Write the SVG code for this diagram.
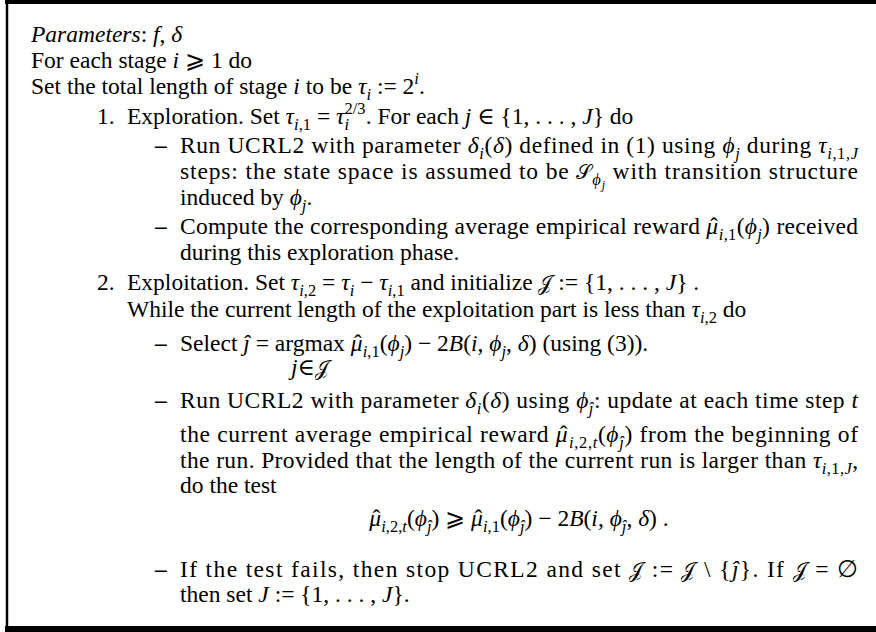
<svg xmlns="http://www.w3.org/2000/svg" width="876" height="632" viewBox="0 0 876 632">
<style>
text{font-family:"Liberation Serif","DejaVu Serif",serif;font-size:23.5px;fill:#000}
.m{font-style:italic}
.c{font-family:"DejaVu Sans","Liberation Serif",serif;font-style:normal;font-size:20px}
.sb{font-size:16.5px;baseline-shift:-5.5px}
.sp{font-size:16.5px;baseline-shift:10px}
.h{font-style:normal}
.d{font-weight:bold}
.bd{stroke:#000;fill:none}
</style>
<rect width="876" height="632" fill="#fff"/>
<g id="frame">
<line class="bd" x1="5" y1="2" x2="876" y2="2" stroke-width="4"/>
<line class="bd" x1="7" y1="0" x2="7" y2="632" stroke-width="2.5"/>
<line class="bd" x1="5" y1="629" x2="876" y2="629" stroke-width="6"/>
</g>
<g id="header">
<text x="31" y="42"><tspan class="m">Parameters</tspan>: <tspan class="m">f</tspan>, <tspan class="m">δ</tspan></text>
<text x="31" y="68">For each stage <tspan class="m">i</tspan> ⩾ 1 do</text>
<text x="31" y="94">Set the total length of stage <tspan class="m">i</tspan> to be <tspan class="m">τ</tspan><tspan class="sb m">i</tspan> := 2<tspan class="sp m">i</tspan>.</text>
</g>
<g id="step1">
<text x="97" y="124">1.</text>
<text x="127" y="124">Exploration. Set <tspan class="m">τ</tspan><tspan class="sb"><tspan class="m">i</tspan>,1</tspan> = <tspan class="m">τ</tspan><tspan class="sb m">i</tspan><tspan class="sp" dx="-4.5">2/3</tspan>. For each <tspan class="m">j</tspan> ∈ {1, . . . , <tspan class="m">J</tspan>} do</text>
<text class="d" x="155" y="153">–</text>
<text x="180" y="153" textLength="678" lengthAdjust="spacing">Run UCRL2 with parameter <tspan class="m">δ</tspan><tspan class="sb m">i</tspan>(<tspan class="m">δ</tspan>) defined in (1) using <tspan class="m">ϕ</tspan><tspan class="sb m">j</tspan> during <tspan class="m">τ</tspan><tspan class="sb"><tspan class="m">i</tspan>,1,<tspan class="m">J</tspan></tspan></text>
<text x="180" y="179" textLength="678" lengthAdjust="spacing">steps: the state space is assumed to be <tspan class="c">𝒮</tspan><tspan class="sb m">ϕ</tspan><tspan class="m" font-size="12" baseline-shift="-10">j</tspan> with transition structure</text>
<text x="180" y="205">induced by <tspan class="m">ϕ</tspan><tspan class="sb m">j</tspan>.</text>
<text class="d" x="155" y="234">–</text>
<text x="180" y="234" textLength="678" lengthAdjust="spacing">Compute the corresponding average empirical reward <tspan class="m">μ</tspan><tspan class="h" dx="-8.5">ˆ</tspan><tspan class="sb" dx="0.8"><tspan class="m">i</tspan>,1</tspan>(<tspan class="m">ϕ</tspan><tspan class="sb m">j</tspan>) received</text>
<text x="180" y="260">during this exploration phase.</text>
</g>
<g id="step2">
<text x="97" y="290">2.</text>
<text x="127" y="290">Exploitation. Set <tspan class="m">τ</tspan><tspan class="sb"><tspan class="m">i</tspan>,2</tspan> = <tspan class="m">τ</tspan><tspan class="sb m">i</tspan> − <tspan class="m">τ</tspan><tspan class="sb"><tspan class="m">i</tspan>,1</tspan> and initialize <tspan class="c">𝒥</tspan> := {1, . . . , <tspan class="m">J</tspan>} .</text>
<text x="127" y="317">While the current length of the exploitation part is less than <tspan class="m">τ</tspan><tspan class="sb"><tspan class="m">i</tspan>,2</tspan> do</text>
<text class="d" x="155" y="351">–</text>
<text x="180" y="351">Select <tspan class="m">ĵ</tspan> = argmax <tspan class="m">μ</tspan><tspan class="h" dx="-8.5">ˆ</tspan><tspan class="sb" dx="0.8"><tspan class="m">i</tspan>,1</tspan>(<tspan class="m">ϕ</tspan><tspan class="sb m">j</tspan>) − 2<tspan class="m">B</tspan>(<tspan class="m">i</tspan>, <tspan class="m">ϕ</tspan><tspan class="sb m">j</tspan>, <tspan class="m">δ</tspan>) (using (3)).</text>
<text x="310" y="375" text-anchor="middle" font-size="16"><tspan class="m">j</tspan>∈<tspan class="c" font-size="14">𝒥</tspan></text>
<text class="d" x="155" y="408">–</text>
<text x="180" y="408" textLength="678" lengthAdjust="spacing">Run UCRL2 with parameter <tspan class="m">δ</tspan><tspan class="sb m">i</tspan>(<tspan class="m">δ</tspan>) using <tspan class="m">ϕ</tspan><tspan class="sb m">ĵ</tspan>: update at each time step <tspan class="m">t</tspan></text>
<text x="180" y="442" textLength="678" lengthAdjust="spacing">the current average empirical reward <tspan class="m">μ</tspan><tspan class="h" dx="-8.5">ˆ</tspan><tspan class="sb" dx="0.8"><tspan class="m">i</tspan>,2,<tspan class="m">t</tspan></tspan>(<tspan class="m">ϕ</tspan><tspan class="sb m">ĵ</tspan>) from the beginning of</text>
<text x="180" y="468" textLength="678" lengthAdjust="spacing">the run. Provided that the length of the current run is larger than <tspan class="m">τ</tspan><tspan class="sb"><tspan class="m">i</tspan>,1,<tspan class="m">J</tspan></tspan>,</text>
<text x="180" y="493">do the test</text>
<text x="519" y="526" text-anchor="middle"><tspan class="m">μ</tspan><tspan class="h" dx="-8.5">ˆ</tspan><tspan class="sb" dx="0.8"><tspan class="m">i</tspan>,2,<tspan class="m">t</tspan></tspan>(<tspan class="m">ϕ</tspan><tspan class="sb m">ĵ</tspan>) ⩾ <tspan class="m">μ</tspan><tspan class="h" dx="-8.5">ˆ</tspan><tspan class="sb" dx="0.8"><tspan class="m">i</tspan>,1</tspan>(<tspan class="m">ϕ</tspan><tspan class="sb m">ĵ</tspan>) − 2<tspan class="m">B</tspan>(<tspan class="m">i</tspan>, <tspan class="m">ϕ</tspan><tspan class="sb m">ĵ</tspan>, <tspan class="m">δ</tspan>) .</text>
<text class="d" x="155" y="577">–</text>
<text x="180" y="577" textLength="678" lengthAdjust="spacing">If the test fails, then stop UCRL2 and set <tspan class="c">𝒥</tspan> := <tspan class="c">𝒥</tspan> \ {<tspan class="m">ĵ</tspan>}. If <tspan class="c">𝒥</tspan> = ∅</text>
<text x="180" y="602">then set <tspan class="m">J</tspan> := {1, . . . , <tspan class="m">J</tspan>}.</text>
</g>
</svg>
